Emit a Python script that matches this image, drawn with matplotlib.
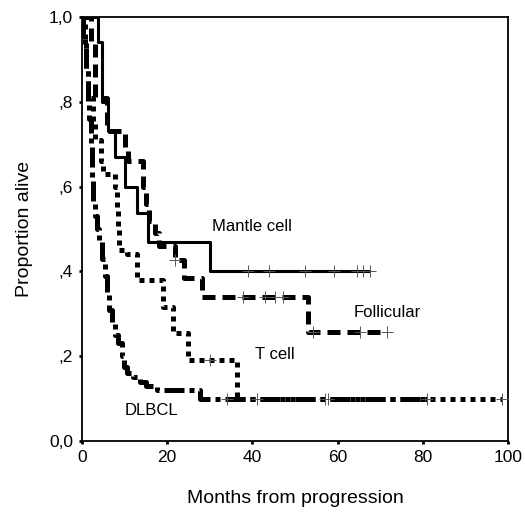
import numpy as np
import matplotlib
matplotlib.use("Agg")
import matplotlib.pyplot as plt

plt.rcParams['font.family'] = ['Liberation Sans', 'DejaVu Sans']

# ---- data (Kaplan-Meier step curves) ----
mantle_t = [0, 3.8, 4.8, 6.2, 7.7, 10.1, 12.8, 15.6, 30.0]
mantle_s = [1.0, 0.94, 0.80, 0.73, 0.67, 0.60, 0.537, 0.47, 0.40]
mantle_end = 67.5
mantle_cens = [39.0, 44.0, 52.3, 59.2, 64.5, 65.9, 67.5]

foll_t = [0, 2.0, 3.0, 5.9, 10.1, 10.8, 14.4, 15.0, 15.8, 17.1, 18.0, 21.8, 24.0, 28.1, 53.1]
foll_s = [1.0, 0.94, 0.81, 0.73, 0.69, 0.66, 0.60, 0.56, 0.52, 0.49, 0.46, 0.427, 0.385, 0.34, 0.258]
foll_end = 71.7
foll_cens = [21.8, 37.8, 43.0, 45.3, 47.2, 54.3, 65.3, 71.7]

tcell_t = [0, 0.7, 1.0, 1.4, 2.5, 3.0, 4.5, 5.0, 7.7, 8.2, 8.5, 8.8, 10.5, 12.8, 19.1, 21.4, 24.8, 36.3]
tcell_s = [1.0, 0.94, 0.875, 0.81, 0.75, 0.71, 0.66, 0.63, 0.60, 0.55, 0.50, 0.45, 0.44, 0.38, 0.317, 0.255, 0.19, 0.10]
tcell_end = 98.5
tcell_cens = [30.0, 98.5]

dlbcl_t = [0, 0.3, 0.6, 1.0, 1.3, 1.6, 2.0, 2.3, 2.6, 3.0, 3.5, 4.0, 4.7, 5.3, 5.8,
           6.3, 7.0, 7.7, 8.4, 9.5, 9.9, 10.5, 12.0, 13.5, 15.0, 17.5, 27.7]
dlbcl_s = [1.0, 0.96, 0.93, 0.88, 0.80, 0.76, 0.70, 0.62, 0.56, 0.53, 0.50, 0.47, 0.43, 0.39, 0.35,
           0.31, 0.28, 0.25, 0.23, 0.20, 0.175, 0.16, 0.15, 0.14, 0.13, 0.12, 0.10]
dlbcl_end = 81.0
dlbcl_cens = [34.0, 41.0, 57.0, 57.8, 81.0]

x_ticks = [0, 20, 40, 60, 80, 100]
y_ticks = [0.0, 0.2, 0.4, 0.6, 0.8, 1.0]
y_ticklabels = ["0,0", ",2", ",4", ",6", ",8", "1,0"]

labels = {"Mantle cell": (30.5, 0.505), "Follicular": (63.8, 0.302),
          "T cell": (40.6, 0.205), "DLBCL": (9.9, 0.073)}

# ---- figure ----
fig = plt.figure(figsize=(5.25, 5.18), dpi=100)
ax = fig.add_axes([82/525, 1-441/518, (508-82)/525, (441-17)/518])


def draw(t, s, end, cens, lw, dashes, z):
    tt = list(t) + [end]
    ss = list(s) + [s[-1]]
    line, = ax.step(tt, ss, where='post', color='black', lw=lw, zorder=z,
                    solid_capstyle='butt', dash_capstyle='butt')
    if dashes is not None:
        line.set_dashes(dashes)
    ta = np.array(t)
    sa = np.array(s)
    cy = [sa[np.searchsorted(ta, c, side='right') - 1] for c in cens]
    ax.plot(cens, cy, linestyle='none', marker='+', ms=9, mew=0.7,
            color='#555555', zorder=z + 1)


draw(dlbcl_t, dlbcl_s, dlbcl_end, dlbcl_cens, 3.6, (4, 1, 1, 1), 3)
draw(tcell_t, tcell_s, tcell_end, tcell_cens, 3.6, (1, 1), 3)
draw(foll_t, foll_s, foll_end, foll_cens, 3.6, (2.6, 1.4), 3)
draw(mantle_t, mantle_s, mantle_end, mantle_cens, 2.2, None, 4)

for txt, (x, y) in labels.items():
    ax.text(x, y, txt, fontsize=12, ha='left', va='center', color='black')

ax.set_xlim(0, 100)
ax.set_ylim(0, 1.0)
ax.set_xticks(x_ticks)
ax.set_xticklabels([str(v) for v in x_ticks])
ax.set_yticks(y_ticks)
ax.set_yticklabels(y_ticklabels)
ax.tick_params(direction='out', length=2.5, width=2, labelsize=12.5, pad=4)
for sp in ax.spines.values():
    sp.set_linewidth(1.3)

ax.set_xlabel("Months from progression", fontsize=14)
ax.set_ylabel("Proportion alive", fontsize=14)
ax.xaxis.set_label_coords(0.5, -0.115)
ax.yaxis.set_label_coords(-0.115, 0.5)

fig.savefig("out.png", dpi=100)
